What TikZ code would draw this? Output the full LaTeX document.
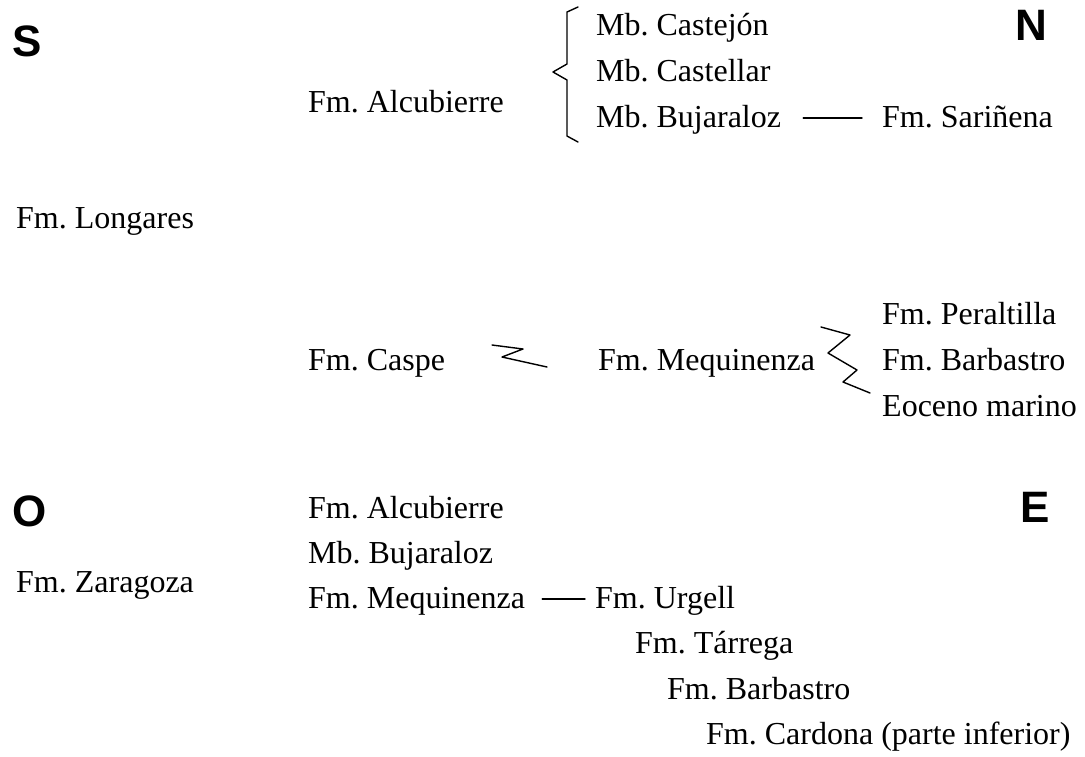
\documentclass[tikz,border=0pt]{standalone}
\usepackage{fontspec}
\setmainfont{Liberation Serif}
\newfontfamily\dirfont{Liberation Sans}
\frenchspacing
\tikzset{
  fm/.style={anchor=base west,inner sep=0pt,font=\fontsize{32}{38}\selectfont},
  dir/.style={anchor=base west,inner sep=0pt,font=\dirfont\bfseries\fontsize{44}{50}\selectfont},
  trazo/.style={black,line width=1.4pt,line join=round,line cap=round}
}
\begin{document}
\begin{tikzpicture}[x=1pt,y=-1pt]
\useasboundingbox (0,0) rectangle (1085,756);
% Puntos cardinales
\node[dir]at(12,56)(S){S};
\node[dir]at(1015,40)(N){N};
\node[dir]at(12,526)(O){O};
\node[dir]at(1020,522)(E){E};

% Arriba
\node[fm]at(308,112)(alcub){Fm. Alcubierre};
\node[fm]at(596,35)(castejon){Mb. Castej\'on};
\node[fm]at(596,81)(castellar){Mb. Castellar};
\node[fm]at(596,127)(bujar){Mb. Bujaraloz};
\node[fm]at(882,127)(sarinena){Fm. Sari\~nena};
\draw[trazo](578,7) -- (567,12) -- (567,64) -- (553,72) -- (567,80) -- (567,136) -- (578,142);
\draw[trazo]([xshift=22pt,yshift=9pt]bujar.base east) -- ([xshift=-20pt,yshift=9pt]sarinena.base west);

% Medio
\node[fm]at(16,228)(longares){Fm. Longares};
\node[fm]at(308,370)(caspe){Fm. Caspe};
\node[fm]at(598,370)(mequi){Fm. Mequinenza};
\node[fm]at(882,324)(peral){Fm. Peraltilla};
\node[fm]at(882,370)(barba){Fm. Barbastro};
\node[fm]at(882,416)(eoceno){Eoceno marino};
\draw[trazo](492,345) -- (523,349) -- (502,357) -- (547,367);
\draw[trazo](821,327) -- (850,335) -- (828,353) -- (857,370) -- (843,382) -- (870,393);

% Abajo
\node[fm]at(16,592)(zarag){Fm. Zaragoza};
\node[fm]at(308,518)(alcub2){Fm. Alcubierre};
\node[fm]at(308,563)(bujar2){Mb. Bujaraloz};
\node[fm]at(308,608)(mequi2){Fm. Mequinenza};
\node[fm]at(595,608)(urgell){Fm. Urgell};
\node[fm]at(635,653)(tarrega){Fm. T\'arrega};
\node[fm]at(667,699)(barba2){Fm. Barbastro};
\node[fm]at(706,744)(cardona){Fm. Cardona (parte inferior)};
\draw[trazo]([xshift=17pt,yshift=9pt]mequi2.base east) -- ([xshift=-10pt,yshift=9pt]urgell.base west);
\end{tikzpicture}
\end{document}
